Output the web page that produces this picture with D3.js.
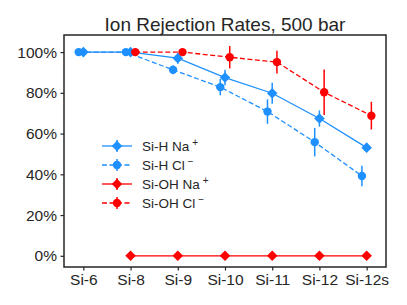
<!DOCTYPE html>
<html>
<head>
<meta charset="utf-8">
<script src="https://cdn.jsdelivr.net/npm/d3@7"></script>
<style>
  body { margin: 0; background: #fff; }
  text { font-family: "Liberation Sans", Arial, sans-serif; fill: #262626; }
</style>
</head>
<body>
<svg id="chart" width="407" height="305"></svg>
<script>
const categories = ["Si-6", "Si-8", "Si-9", "Si-10", "Si-11", "Si-12", "Si-12s"];
const yTicks = [0, 20, 40, 60, 80, 100];

// rejection (%) and error (%), null where no point
const siHNa = [100, 100, 97.0, 87.5, 79.8, 67.4, 53.1];
const siHNaErr = [0.8, 0.8, 2.7, 3.8, 5.2, 4.0, 1.0];
const siHCl = [100, 100, 91.3, 82.8, 70.8, 55.8, 39.2];
const siHClErr = [1.0, 1.0, 2.2, 4.0, 6.0, 7.0, 5.0];
const siOHNa = [null, 0, 0, 0, 0, 0, 0];
const siOHNaErr = [0, 0, 0, 0, 0, 0, 0];
const siOHCl = [null, 100, 100, 97.5, 95.1, 80.3, 68.8];
const siOHClErr = [0, 0, 0, 5.5, 5.6, 11.2, 6.8];

const series = [
  {ion: "Na", sup: "+", name: "Si-H", vals: siHNa, err: siHNaErr, color: "#1E90FF", dash: null, marker: "D", off: 0},
  {ion: "Cl", sup: "\u2212", name: "Si-H", vals: siHCl, err: siHClErr, color: "#1E90FF", dash: "5,2.5", marker: "o", off: -0.1},
  {ion: "Na", sup: "+", name: "Si-OH", vals: siOHNa, err: siOHNaErr, color: "#FF0000", dash: null, marker: "D", off: 0},
  {ion: "Cl", sup: "\u2212", name: "Si-OH", vals: siOHCl, err: siOHClErr, color: "#FF0000", dash: "5,2.5", marker: "o", off: 0.1}
];

const margin = {top: 35, right: 21, bottom: 38, left: 64};
const W = 407, H = 305;
const w = W - margin.left - margin.right;
const h = H - margin.top - margin.bottom;

const svg = d3.select("#chart");
const g = svg.append("g").attr("transform", "translate(" + margin.left + "," + margin.top + ")");

const x = d3.scaleLinear().domain([-0.41, 6.41]).range([0, w]);
const y = d3.scaleLinear().domain([-5.5, 108.4]).range([h, 0]);

// axes
const xAxis = g.append("g")
  .attr("transform", "translate(0," + h + ")")
  .call(d3.axisBottom(x).tickValues(d3.range(categories.length)).tickFormat(i => categories[i]).tickSize(3.5).tickPadding(3.5));
const yAxis = g.append("g")
  .call(d3.axisLeft(y).tickValues(yTicks).tickFormat(d => d + "%").tickSize(3.5).tickPadding(3.5));
[xAxis, yAxis].forEach(a => {
  a.select(".domain").remove();
  a.selectAll("line").attr("stroke", "#262626").attr("stroke-width", 1.2);
  a.selectAll("text").style("font-size", "15.5px").attr("fill", "#262626");
});

g.append("rect").attr("width", w).attr("height", h)
  .attr("fill", "none").attr("stroke", "#262626").attr("stroke-width", 1.5);

function drawMarker(sel, type, color) {
  if (type === "D") {
    sel.append("path").attr("d", d3.symbol().type(d3.symbolSquare).size(56)())
      .attr("transform", "rotate(45)")
      .attr("fill", color);
  } else {
    sel.append("circle").attr("r", 4.2).attr("fill", color);
  }
}

series.forEach(s => {
  const pts = s.vals.map((v, i) => ({i: i, v: v, e: s.err[i]})).filter(d => d.v !== null);
  const line = d3.line().x(d => x(d.i + s.off)).y(d => y(d.v));
  g.append("path").datum(pts).attr("d", line)
    .attr("fill", "none").attr("stroke", s.color).attr("stroke-width", 1.3)
    .attr("stroke-dasharray", s.dash);
  g.selectAll(null).data(pts.filter(d => d.e > 0)).enter().append("line")
    .attr("x1", d => x(d.i + s.off)).attr("x2", d => x(d.i + s.off))
    .attr("y1", d => y(d.v - d.e)).attr("y2", d => y(d.v + d.e))
    .attr("stroke", s.color).attr("stroke-width", 1.5);
  pts.forEach(d => {
    const m = g.append("g").attr("transform", "translate(" + x(d.i + s.off) + "," + y(d.v) + ")");
    drawMarker(m, s.marker, s.color);
  });
});

// legend
const leg = svg.append("g").attr("transform", "translate(102,146)");
series.forEach((s, k) => {
  const row = leg.append("g").attr("transform", "translate(0," + (k * 19) + ")");
  row.append("line").attr("x1", 0).attr("x2", 30).attr("y1", 0).attr("y2", 0)
    .attr("stroke", s.color).attr("stroke-width", 1.3).attr("stroke-dasharray", s.dash);
  row.append("line").attr("x1", 15).attr("x2", 15).attr("y1", -6).attr("y2", 6)
    .attr("stroke", s.color).attr("stroke-width", 1.5);
  const m = row.append("g").attr("transform", "translate(15,0)");
  drawMarker(m, s.marker, s.color);
  const t = row.append("text").attr("x", 40).attr("y", 5).style("font-size", "13.5px");
  t.append("tspan").text(s.name + " " + s.ion);
  t.append("tspan").attr("dx", 3).attr("dy", -5).style("font-size", "10px").text(s.sup);
});

// title
svg.append("text").attr("x", margin.left + w / 2).attr("y", 31)
  .attr("text-anchor", "middle").style("font-size", "19px")
  .text("Ion Rejection Rates, 500 bar");
</script>
</body>
</html>
